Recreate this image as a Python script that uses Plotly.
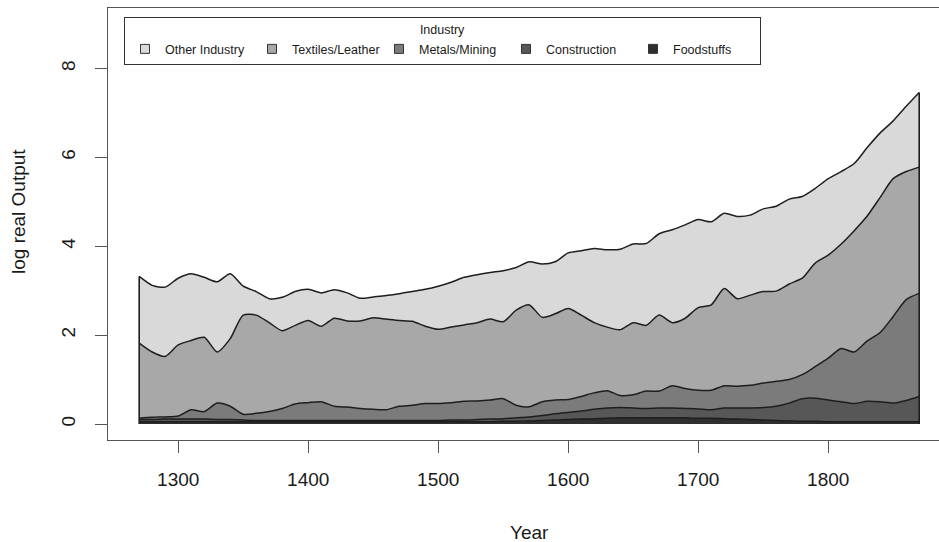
import plotly.graph_objects as go

# Decadal estimates of log real output, by industry (stacked)
years = [1270, 1280, 1290, 1300, 1310, 1320, 1330, 1340, 1350, 1360,
         1370, 1380, 1390, 1400, 1410, 1420, 1430, 1440, 1450, 1460,
         1470, 1480, 1490, 1500, 1510, 1520, 1530, 1540, 1550, 1560,
         1570, 1580, 1590, 1600, 1610, 1620, 1630, 1640, 1650, 1660,
         1670, 1680, 1690, 1700, 1710, 1720, 1730, 1740, 1750, 1760,
         1770, 1780, 1790, 1800, 1810, 1820, 1830, 1840, 1850, 1860,
         1870]

foodstuffs = [0.05, 0.05, 0.05, 0.05, 0.05, 0.05, 0.05, 0.05, 0.05, 0.05,
              0.05, 0.05, 0.05, 0.05, 0.05, 0.05, 0.05, 0.05, 0.05, 0.05,
              0.05, 0.05, 0.05, 0.05, 0.05, 0.05, 0.05, 0.05, 0.06, 0.06,
              0.07, 0.08, 0.09, 0.10, 0.11, 0.12, 0.13, 0.14, 0.14, 0.14,
              0.14, 0.14, 0.14, 0.13, 0.13, 0.12, 0.11, 0.10, 0.09, 0.08,
              0.07, 0.06, 0.06, 0.05, 0.05, 0.05, 0.05, 0.05, 0.05, 0.05,
              0.05]

construction = [0.05, 0.05, 0.06, 0.06, 0.06, 0.06, 0.05, 0.05, 0.04, 0.03,
                0.03, 0.03, 0.03, 0.03, 0.03, 0.03, 0.03, 0.03, 0.03, 0.03,
                0.03, 0.03, 0.03, 0.03, 0.04, 0.04, 0.05, 0.06, 0.06, 0.08,
                0.09, 0.11, 0.14, 0.16, 0.18, 0.21, 0.23, 0.23, 0.22, 0.21,
                0.22, 0.22, 0.21, 0.21, 0.19, 0.24, 0.25, 0.26, 0.28, 0.32,
                0.40, 0.51, 0.52, 0.49, 0.45, 0.41, 0.46, 0.45, 0.42, 0.48,
                0.57]

metals_mining = [0.03, 0.05, 0.05, 0.07, 0.21, 0.17, 0.37, 0.30, 0.13, 0.16,
                 0.20, 0.27, 0.37, 0.40, 0.42, 0.32, 0.30, 0.27, 0.25, 0.24,
                 0.32, 0.34, 0.38, 0.38, 0.39, 0.42, 0.42, 0.43, 0.45, 0.28,
                 0.23, 0.31, 0.31, 0.29, 0.33, 0.37, 0.39, 0.27, 0.30, 0.39,
                 0.38, 0.50, 0.45, 0.42, 0.44, 0.50, 0.49, 0.51, 0.55, 0.56,
                 0.53, 0.54, 0.71, 0.94, 1.20, 1.16, 1.36, 1.56, 1.95, 2.27,
                 2.32]

textiles_leather = [1.69, 1.47, 1.36, 1.60, 1.56, 1.67, 1.15, 1.52, 2.23, 2.21,
                    2.00, 1.75, 1.77, 1.85, 1.70, 1.98, 1.94, 1.97, 2.06, 2.04,
                    1.93, 1.89, 1.74, 1.67, 1.70, 1.72, 1.76, 1.82, 1.73, 2.14,
                    2.29, 1.90, 1.94, 2.05, 1.83, 1.58, 1.43, 1.48, 1.62, 1.48,
                    1.71, 1.42, 1.58, 1.86, 1.92, 2.19, 1.97, 2.03, 2.06, 2.03,
                    2.15, 2.17, 2.33, 2.32, 2.35, 2.73, 2.81, 3.04, 3.10, 2.88,
                    2.84]

other_industry = [1.50, 1.50, 1.56, 1.50, 1.50, 1.35, 1.58, 1.46, 0.65, 0.53,
                  0.54, 0.75, 0.76, 0.70, 0.75, 0.64, 0.63, 0.51, 0.47, 0.53,
                  0.60, 0.67, 0.83, 0.97, 1.01, 1.07, 1.08, 1.05, 1.15, 0.96,
                  0.97, 1.20, 1.17, 1.25, 1.45, 1.67, 1.74, 1.81, 1.77, 1.84,
                  1.83, 2.09, 2.10, 1.98, 1.87, 1.69, 1.85, 1.80, 1.86, 1.91,
                  1.91, 1.84, 1.68, 1.72, 1.63, 1.51, 1.54, 1.45, 1.30, 1.47,
                  1.68]

# Stacking order: bottom layer first
layers = [
    ("Foodstuffs", foodstuffs, "#2f2f2f"),
    ("Construction", construction, "#575757"),
    ("Metals/Mining", metals_mining, "#7b7b7b"),
    ("Textiles/Leather", textiles_leather, "#a8a8a8"),
    ("Other Industry", other_industry, "#d9d9d9"),
]

OUTLINE = "#1e1e1e"
AXIS = "#555555"
TEXT = "#1a1a1a"
FONT = "Liberation Sans, Arial, Helvetica, sans-serif"

fig = go.Figure()

for name, vals, col in layers:
    fig.add_trace(go.Scatter(
        x=years, y=vals, name=name, stackgroup="industry",
        mode="lines", fillcolor=col,
        line=dict(color=OUTLINE, width=1.5, shape="spline", smoothing=0.7),
        showlegend=False, hoverinfo="x+y+name",
    ))

# Closing edges of the stacked polygon at the first and last year
totals = [sum(v) for v in zip(*[l[1] for l in layers])]
for idx in (0, -1):
    fig.add_trace(go.Scatter(
        x=[years[idx], years[idx]], y=[0, totals[idx]], mode="lines",
        line=dict(color=OUTLINE, width=1.6), showlegend=False, hoverinfo="skip",
    ))

# Legend keys, listed top layer first
for name, vals, col in reversed(layers):
    fig.add_trace(go.Scatter(
        x=[None], y=[None], name=name, mode="markers",
        marker=dict(symbol="square", size=9, color=col,
                    line=dict(color="#333333", width=1)),
    ))

W, H = 939, 542
L, R, T, B = 108, 0, 8, 102
pw, ph = W - L - R, H - T - B

fig.update_layout(
    width=W, height=H,
    margin=dict(l=L, r=R, t=T, b=B),
    paper_bgcolor="white", plot_bgcolor="white",
    font=dict(family=FONT, color=TEXT, size=19),
    showlegend=True,
    legend=dict(
        orientation="h",
        x=(124 - L) / pw, y=1 - (17 - T) / ph,
        xanchor="left", yanchor="top",
        bgcolor="white", bordercolor="#333333", borderwidth=1,
        font=dict(size=12.5, color=TEXT, family=FONT),
        title=dict(text="Industry", side="top center",
                   font=dict(size=12.5, color=TEXT, family=FONT)),
        itemwidth=30, entrywidthmode="pixels", entrywidth=82,
        traceorder="normal",
    ),
    xaxis=dict(
        range=[1246, 1246 + pw / 1.3],
        tickvals=[1300, 1400, 1500, 1600, 1700, 1800],
        ticks="outside", ticklen=12, tickcolor=AXIS, tickwidth=1,
        showline=True, linecolor=AXIS, linewidth=1, mirror=True,
        showgrid=False, zeroline=False,
        tickfont=dict(size=19, color=TEXT),
        ticklabelstandoff=10,
    ),
    yaxis=dict(
        range=[-0.36, 9.36],
        tickvals=[0, 2, 4, 6, 8],
        ticks="outside", ticklen=12, tickcolor=AXIS, tickwidth=1,
        showline=True, linecolor=AXIS, linewidth=1, mirror=False,
        showgrid=False, zeroline=False,
        tickangle=-90,
        tickfont=dict(size=19, color=TEXT),
        ticklabelstandoff=12,
    ),
    annotations=[
        dict(text="Year", xref="paper", yref="paper",
             x=(529 - L) / pw, y=-(532 - (T + ph)) / ph,
             xanchor="center", yanchor="middle", showarrow=False,
             font=dict(size=19, color=TEXT)),
        dict(text="log real Output", xref="paper", yref="paper",
             x=(18 - L) / pw, y=((T + ph) - 212) / ph,
             xanchor="center", yanchor="middle", textangle=-90,
             showarrow=False, font=dict(size=19, color=TEXT)),
    ],
)

fig.write_html("out.html")
